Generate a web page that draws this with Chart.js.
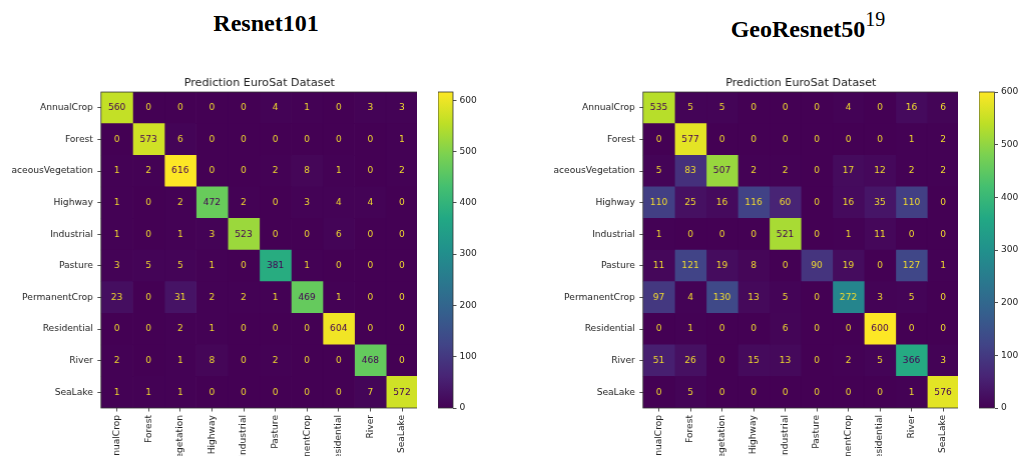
<!DOCTYPE html>
<html lang="en">
<head>
<meta charset="UTF-8">
<title>EuroSat confusion matrices</title>
<script src="https://cdn.jsdelivr.net/npm/chart.js"></script>
<style>
  body { margin: 0; width: 1018px; height: 456px; overflow: hidden; background: #fff; position: relative; }
  .title { position: absolute; font: bold 24px 'Liberation Serif', 'Times New Roman', serif; line-height: 1;
           white-space: nowrap; transform: translateX(-50%); color: #000; }
  .title sup { font-weight: normal; font-size: 20px; vertical-align: baseline; position: relative; top: -11px; }
  .box { position: absolute; }
</style>
</head>
<body>
<div class="title" style="left:266px; top:10.6px">Resnet101</div>
<div class="title" style="left:808px; top:16.6px">GeoResnet50<sup>19</sup></div>

<div class="box" style="left:11.2px; top:60px; width:405.8px; height:468px"><canvas id="cmLeft"></canvas></div>
<div class="box" style="left:437.7px; top:80px; width:60px; height:340px"><canvas id="cbLeft"></canvas></div>
<div class="box" style="left:553.2px; top:60px; width:404.8px; height:468px"><canvas id="cmRight"></canvas></div>
<div class="box" style="left:978.5px; top:80px; width:55px; height:340px"><canvas id="cbRight"></canvas></div>

<script>
  // classes (rows = true label, columns = predicted label)
  const classNames = ['AnnualCrop', 'Forest', 'HerbaceousVegetation', 'Highway', 'Industrial',
                      'Pasture', 'PermanentCrop', 'Residential', 'River', 'SeaLake'];

  const resnet101Counts = [
    [560, 0, 0, 0, 0, 4, 1, 0, 3, 3],
    [0, 573, 6, 0, 0, 0, 0, 0, 0, 1],
    [1, 2, 616, 0, 0, 2, 8, 1, 0, 2],
    [1, 0, 2, 472, 2, 0, 3, 4, 4, 0],
    [1, 0, 1, 3, 523, 0, 0, 6, 0, 0],
    [3, 5, 5, 1, 0, 381, 1, 0, 0, 0],
    [23, 0, 31, 2, 2, 1, 469, 1, 0, 0],
    [0, 0, 2, 1, 0, 0, 0, 604, 0, 0],
    [2, 0, 1, 8, 0, 2, 0, 0, 468, 0],
    [1, 1, 1, 0, 0, 0, 0, 0, 7, 572]
  ];

  const geoResnet50Counts = [
    [535, 5, 5, 0, 0, 0, 4, 0, 16, 6],
    [0, 577, 0, 0, 0, 0, 0, 0, 1, 2],
    [5, 83, 507, 2, 2, 0, 17, 12, 2, 2],
    [110, 25, 16, 116, 60, 0, 16, 35, 110, 0],
    [1, 0, 0, 0, 521, 0, 1, 11, 0, 0],
    [11, 121, 19, 8, 0, 90, 19, 0, 127, 1],
    [97, 4, 130, 13, 5, 0, 272, 3, 5, 0],
    [0, 1, 0, 0, 6, 0, 0, 600, 0, 0],
    [51, 26, 0, 15, 13, 0, 2, 5, 366, 3],
    [0, 5, 0, 0, 0, 0, 0, 0, 1, 576]
  ];

  const colorbarTicks = [0, 100, 200, 300, 400, 500, 600];

  Chart.defaults.font.family = '"DejaVu Sans", sans-serif';
  Chart.defaults.color = '#222';

  // viridis stops at 0, 0.1, ..., 1
  const viridisStops = ['#440154', '#482475', '#414487', '#355f8d', '#2a788e', '#21918c',
                        '#22a884', '#44bf70', '#7ad151', '#bddf26', '#fde725'];

  function hexToRgb(h) {
    return [parseInt(h.slice(1, 3), 16), parseInt(h.slice(3, 5), 16), parseInt(h.slice(5, 7), 16)];
  }
  function viridis(t) {
    t = Math.min(1, Math.max(0, t));
    const pos = t * (viridisStops.length - 1);
    const k = Math.min(Math.floor(pos), viridisStops.length - 2);
    const f = pos - k;
    const a = hexToRgb(viridisStops[k]), b = hexToRgb(viridisStops[k + 1]);
    const c = a.map((v, i) => Math.round(v + (b[i] - v) * f));
    return `rgb(${c[0]}, ${c[1]}, ${c[2]})`;
  }

  const tickFont = { size: 9.1 };

  // writes the counts in the cells and draws the frame round the plot
  function cellTextPlugin(matrix, vmax) {
    return {
      id: 'cellText',
      afterDatasetsDraw(chart) {
        const ctx = chart.ctx;
        ctx.save();
        ctx.font = '9.1px "DejaVu Sans"';
        ctx.textAlign = 'center';
        ctx.textBaseline = 'middle';
        chart.data.datasets.forEach((ds, j) => {
          chart.getDatasetMeta(j).data.forEach((bar, i) => {
            const v = matrix[i][j];
            ctx.fillStyle = v > vmax / 2 ? viridisStops[0] : '#f2dc2e';
            ctx.fillText(String(v), (bar.x + bar.base) / 2, bar.y);
          });
        });
        const a = chart.chartArea;
        ctx.strokeStyle = '#333';
        ctx.lineWidth = 0.8;
        ctx.strokeRect(a.left, a.top, a.right - a.left, a.bottom - a.top);
        ctx.restore();
      }
    };
  }

  function drawMatrix(id, matrix, yAxisWidth) {
    const vmax = Math.max(...matrix.flat());
    new Chart(document.getElementById(id), {
      type: 'bar',
      data: {
        labels: classNames,
        datasets: classNames.map((name, j) => ({
          label: name,
          data: matrix.map(() => 1),
          backgroundColor: matrix.map(row => viridis(row[j] / vmax)),
          borderWidth: 0,
          barPercentage: 1,
          categoryPercentage: 1
        }))
      },
      options: {
        indexAxis: 'y',
        responsive: true,
        maintainAspectRatio: false,
        animation: false,
        layout: { padding: 0 },
        plugins: {
          legend: { display: false },
          tooltip: { enabled: false },
          title: {
            display: true,
            text: 'Prediction EuroSat Dataset',
            fullSize: false,
            color: '#222',
            font: { size: 11.2, weight: 'normal' },
            padding: { top: 16.1, bottom: 2.5 }
          }
        },
        scales: {
          x: {
            type: 'linear',
            stacked: true,
            min: 0,
            max: classNames.length,
            afterBuildTicks: (s) => { s.ticks = classNames.map((c, i) => ({ value: i + 0.5 })); },
            afterFit: (s) => { s.height = 120; s.paddingLeft = 0; s.paddingRight = 0; },
            ticks: {
              autoSkip: false,
              minRotation: 90,
              maxRotation: 90,
              padding: 3.5,
              font: tickFont,
              callback: (v, i) => classNames[i]
            },
            grid: { drawOnChartArea: false, tickLength: 3.5, tickColor: '#222', lineWidth: 0.8 },
            border: { display: false }
          },
          y: {
            stacked: true,
            afterFit: (s) => { s.width = yAxisWidth; s.paddingTop = 0; s.paddingBottom = 0; },
            ticks: { autoSkip: false, padding: 4.5, font: tickFont },
            grid: { offset: false, drawOnChartArea: false, tickLength: 3.5, tickColor: '#222', lineWidth: 0.8 },
            border: { display: false }
          }
        }
      },
      plugins: [cellTextPlugin(matrix, vmax)]
    });
  }

  function drawColorbar(id, matrix, axisWidth) {
    const vmax = Math.max(...matrix.flat());
    new Chart(document.getElementById(id), {
      type: 'bar',
      data: {
        labels: [''],
        datasets: [{
          data: [vmax],
          borderWidth: 0,
          barPercentage: 1,
          categoryPercentage: 1,
          backgroundColor: (c) => {
            const ch = c.chart;
            if (!ch.chartArea) return viridisStops[0];
            const y = ch.scales.y;
            const g = ch.ctx.createLinearGradient(0, y.getPixelForValue(0), 0, y.getPixelForValue(vmax));
            viridisStops.forEach((col, k) => g.addColorStop(k / (viridisStops.length - 1), col));
            return g;
          }
        }]
      },
      options: {
        responsive: true,
        maintainAspectRatio: false,
        animation: false,
        layout: { padding: { top: 12, bottom: 12, left: 0, right: 0 } },
        plugins: { legend: { display: false }, tooltip: { enabled: false } },
        scales: {
          x: { display: false },
          y: {
            position: 'right',
            min: 0,
            max: vmax,
            afterBuildTicks: (s) => { s.ticks = colorbarTicks.map(v => ({ value: v })); },
            afterFit: (s) => { s.width = axisWidth; s.paddingTop = 0; s.paddingBottom = 0; },
            ticks: { padding: 3, font: tickFont },
            grid: { drawOnChartArea: false, tickLength: 3.5, tickColor: '#222', lineWidth: 0.8 },
            border: { display: false }
          }
        }
      },
      plugins: [{
        id: 'cbFrame',
        afterDatasetsDraw(chart) {
          const a = chart.chartArea, ctx = chart.ctx;
          ctx.save();
          ctx.strokeStyle = '#333';
          ctx.lineWidth = 0.8;
          ctx.strokeRect(a.left, a.top, a.right - a.left, a.bottom - a.top);
          ctx.restore();
        }
      }]
    });
  }

  drawMatrix('cmLeft', resnet101Counts, 89.8);
  drawColorbar('cbLeft', resnet101Counts, 45);
  drawMatrix('cmRight', geoResnet50Counts, 89.8);
  drawColorbar('cbRight', geoResnet50Counts, 39.5);
</script>
</body>
</html>
